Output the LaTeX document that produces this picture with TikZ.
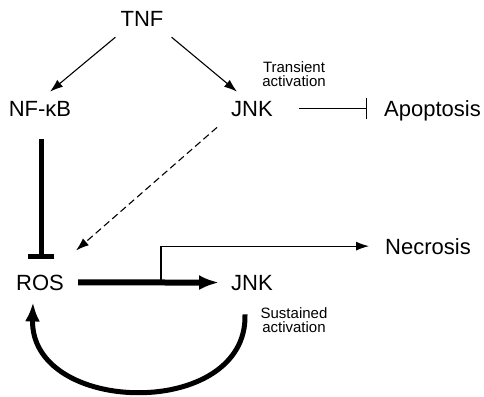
\documentclass[tikz,border=0pt]{standalone}
\usepackage{fontspec}
\setmainfont{Liberation Sans}
\usetikzlibrary{arrows.meta}

\begin{document}
\begin{tikzpicture}[x=1pt, y=-1pt,
    lbl/.style={inner sep=0pt, anchor=base, font=\fontsize{22}{22}\selectfont},
    note/.style={inner sep=0pt, anchor=north, align=center, font=\fontsize{15}{14.5}\selectfont},
    arr/.style={line width=1.1pt, -{Latex[length=13pt,width=9pt]}},
    inh/.style={line width=1.1pt, -{Bar[width=21pt]}}]

  \useasboundingbox (0,0) rectangle (484,396);

  \node[lbl] (tnf)  at (142, 27) {TNF};
  \node[lbl] (nfkb) at ( 40,116) {NF-κB};
  \node[lbl] (jnkT) at (252,116) {JNK};
  \node[lbl, anchor=base west] (apop) at (384,116) {Apoptosis};
  \node[lbl] (ros)  at ( 40,290) {ROS};
  \node[lbl] (jnkS) at (252,290) {JNK};
  \node[lbl, anchor=base west] (necro) at (385,254) {Necrosis};

  \node[note] (trans) at (294, 61) {Transient\\activation};
  \node[note] (sust)  at (294,307) {Sustained\\activation};

  \draw[arr] ([shift={(-5,10)}]tnf.south west) -- ([shift={(10,-9)}]nfkb.north); %% TNF->NF-kB
  \draw[arr] ([shift={(8,10)}]tnf.south east) -- ([shift={(-15,-9)}]jnkT.north); %% TNF->JNK

  \draw[inh] ([xshift=26pt]jnkT.east) -- ([xshift=-17pt]jnkT.east -| apop.west); %% JNK-|Apoptosis

  \draw[line width=5pt, -{Bar[width=26pt]}]
    ([shift={(1,23)}]nfkb.south) -- ([shift={(1,-15)}]ros.north); %% NF-kB-|ROS

  \draw[arr, dash pattern=on 7pt off 4pt]
    ([shift={(-35,11)}]jnkT.south) -- ([shift={(12,-24)}]ros.north east); %% JNK->ROS

  \draw[line width=6pt, -{Latex[length=20pt,width=15pt]}]
    ([xshift=14pt]ros.east) -- ([xshift=-12pt]jnkS.west); %% ROS->JNK

  \coordinate (split) at (161,284);
  \draw[arr] (split) |- ([xshift=-16pt]necro.west); %% ->Necrosis

  \draw[line width=5pt, -{Latex[length=19pt,width=15pt]}]
    ([shift={(-7,24)}]jnkS.south) .. controls (248,420) and (30,416) .. ([shift={(-7,12)}]ros.south); %% JNK->ROS loop
\end{tikzpicture}
\end{document}
